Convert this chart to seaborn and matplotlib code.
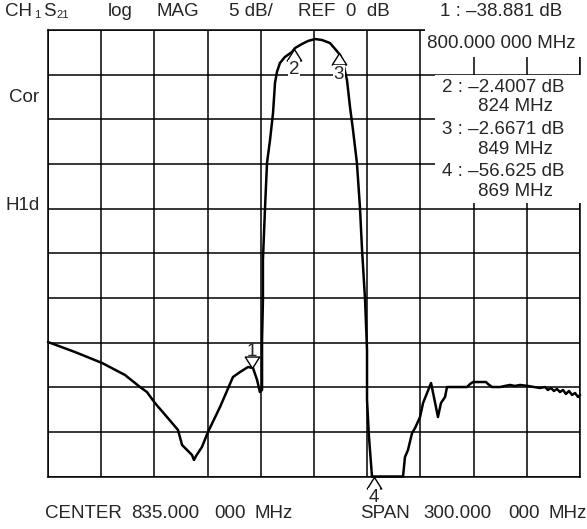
import numpy as np
import matplotlib
matplotlib.use('Agg')
import matplotlib.pyplot as plt
import seaborn as sns
from matplotlib.path import Path
from matplotlib.patches import Rectangle

# S21 trace (MHz, dB); the display floor is -50 dB
freq = [685.0, 700.2, 715.5, 728.4, 736.9, 740.8, 745.3, 752.1, 758.3, 760.6,
        763.4, 766.2, 767.3, 768.5, 771.8, 775.2, 782.0, 789.3, 793.3, 797.8,
        800.6, 802.9, 804.5, 805.7, 805.7, 806.2, 806.2, 807.4, 808.5, 810.2,
        811.9, 813.0, 814.1, 815.8, 818.6, 822.6, 824.3, 828.2, 831.6, 835.6,
        839.5, 844.0, 847.4, 849.7, 851.4, 853.6, 855.3, 857.0, 859.2, 860.9,
        862.1, 863.8, 864.9, 864.9, 866.0, 867.7, 885.2, 886.3, 888.0, 890.3,
        892.0, 894.8, 896.5, 901.0, 903.2, 904.9, 906.6, 908.9, 910.0, 921.3,
        923.0, 924.7, 932.0, 933.1, 935.4, 939.9, 942.7, 945.5, 948.3, 951.2,
        955.7, 959.1, 962.4, 965.3, 966.9, 968.6, 970.3, 972.0, 973.7, 975.4,
        977.1, 978.8, 980.5, 982.2, 983.9, 985.0]
mag = [-34.94, -36.06, -37.29, -38.63, -39.98, -40.54, -41.77, -43.34, -44.79, -46.47,
       -47.03, -47.59, -48.15, -47.70, -46.70, -45.02, -42.22, -38.86, -38.30, -37.74,
       -37.85, -39.19, -40.54, -40.31, -34.71, -30.23, -25.75, -19.82, -14.89, -12.32,
       -9.29, -5.93, -4.70, -3.70, -3.02, -2.46, -2.02, -1.57, -1.23, -1.01,
       -1.12, -1.46, -2.24, -2.80, -3.70, -5.60, -8.62, -11.20, -14.89, -19.82,
       -24.64, -30.23, -35.83, -41.43, -45.57, -50.0, -50.0, -47.82, -47.03, -45.13,
       -44.57, -43.34, -41.77, -39.53, -41.66, -43.34, -41.77, -41.10, -39.98, -39.98,
       -39.64, -39.42, -39.42, -39.64, -39.98, -39.98, -39.86, -39.75, -39.86, -39.75,
       -39.86, -39.98, -40.09, -39.98, -40.31, -40.09, -40.42, -40.20, -40.54, -40.31,
       -40.76, -40.42, -40.87, -40.65, -41.10, -40.87]

marker_ids = ['1', '2', '3', '4']
marker_freq = [800.0, 824.0, 849.0, 869.0]
marker_db = [-38.881, -2.4007, -2.6671, -56.625]

center, span = 835.0, 300.0
ref_db, per_div = 0.0, 5.0

sns.set_theme(style='white')
plt.rcParams['font.family'] = ['Liberation Sans', 'DejaVu Sans']
FS = 13.5

W, H = 587, 529
fig = plt.figure(figsize=(W / 100, H / 100), dpi=100)
ax = fig.add_axes([48 / W, 1 - 476.5 / H, 532 / W, 446.5 / H])

sns.lineplot(x=freq, y=mag, ax=ax, color='black', lw=1.8, sort=False,
             estimator=None, zorder=5, clip_on=False)

lo, hi = center - span / 2, center + span / 2
floor = ref_db - 10 * per_div
ax.set_xlim(lo, hi)
ax.set_ylim(floor, ref_db)
ax.set_xticks(np.arange(lo, hi + 1, span / 10))
ax.set_yticks(np.arange(floor, ref_db + 1, per_div))
ax.tick_params(length=0, labelbottom=False, labelleft=False)
ax.grid(True, color='black', lw=1.1)
ax.set_axisbelow(True)
for s in ax.spines.values():
    s.set_color('black')
    s.set_linewidth(1.1)

# white readout areas top right
ax.add_patch(Rectangle((0.709, 0.9395), 0.3, 0.07, transform=ax.transAxes,
                       facecolor='white', edgecolor='none', zorder=3, clip_on=False))
ax.add_patch(Rectangle((0.7274, 0.6125), 0.28, 0.2875, transform=ax.transAxes,
                       facecolor='white', edgecolor='none', zorder=3, clip_on=False))

# marker triangles, apex sitting on the trace
tri_up = Path([(0, 0), (-0.63, -1), (0.63, -1), (0, 0)], [1, 2, 2, 79])
tri_dn = Path([(0, 0), (-0.63, 1), (0.63, 1), (0, 0)], [1, 2, 2, 79])
for mid, mf, md in zip(marker_ids, marker_freq, marker_db):
    y = max(md, floor) if mid == '4' else np.interp(mf, freq, mag)
    if mid == '1':
        ax.plot([mf], [y], marker=tri_dn, ms=16.5, mfc='white', mec='black', mew=1.0,
                zorder=6, clip_on=False)
        ax.annotate(mid, (mf, y), xytext=(0, 12), textcoords='offset points',
                    ha='center', va='center', fontsize=FS, zorder=7)
    else:
        ax.plot([mf], [y], marker=tri_up, ms=16.5, mfc='white', mec='black', mew=1.0,
                zorder=6, clip_on=False)
        ax.annotate(mid, (mf, y), xytext=(0, -15), textcoords='offset points',
                    ha='center', va='center', fontsize=FS, zorder=7, annotation_clip=False,
                    bbox=dict(facecolor='white', edgecolor='none', pad=0.5))


def put(px, py, s, size=FS, ha='left'):
    fig.text(px / W, 1 - py / H, s, fontsize=size, ha=ha, va='center')


# header
put(5, 12, 'CH')
put(34, 15, '1', size=8)
put(43, 12, 'S')
put(56, 15, '21', size=8)
put(108, 12, 'log')
put(156, 12, 'MAG')
put(229, 12, '5 dB/')
put(298, 12, 'REF  0  dB')
put(440, 12, f'{marker_ids[0]} : –{abs(marker_db[0]):.3f} dB')

# readout block
put(501, 44, '800.000 000 MHz', ha='center')
put(442, 87, '2 : –2.4007 dB')
put(553, 107, '824 MHz', ha='right')
put(442, 129, '3 : –2.6671 dB')
put(553, 149, '849 MHz', ha='right')
put(442, 171, '4 : –56.625 dB')
put(553, 192, '869 MHz', ha='right')

put(24, 97, 'Cor', ha='center')
put(23, 206, 'H1d', ha='center')

# footer
put(45, 513, 'CENTER')
put(131, 513, '835.000')
put(214, 513, '000')
put(255, 513, 'MHz')
put(360, 514, 'SPAN')
put(423, 514, '300.000')
put(508, 514, '000')
put(548, 514, 'MHz')

fig.savefig('out.png', dpi=100)
